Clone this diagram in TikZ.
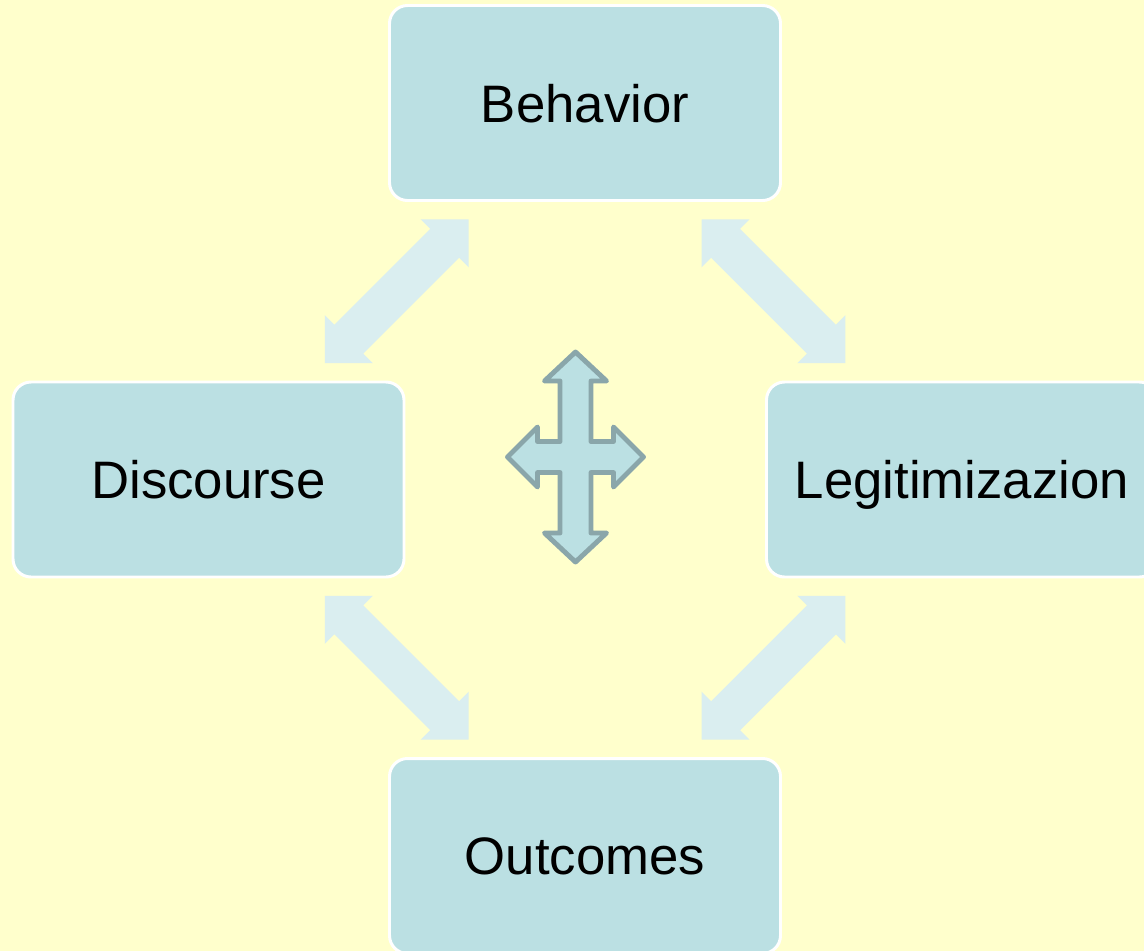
\documentclass[tikz,border=0pt]{standalone}
\usepackage{fontspec}
\setmainfont{Liberation Sans}
\usetikzlibrary{calc}

\definecolor{paper}{HTML}{FFFFCC}
\definecolor{boxfill}{HTML}{BBE0E3}
\definecolor{linkfill}{HTML}{DAEEF0}
\definecolor{crossline}{HTML}{8AA6AA}

\tikzset{
  box/.style={rectangle, rounded corners=0.36cm, draw=white, line width=1.7pt,
    fill=boxfill, minimum width=7.82cm, minimum height=3.9cm, text depth=0pt,
    font=\fontsize{30}{36}\selectfont},
  dblarrow/.pic={
    \fill[linkfill] (2.036,0) -- (1.356,0.68) -- (1.356,0.41) -- (-1.356,0.41)
      -- (-1.356,0.68) -- (-2.036,0) -- (-1.356,-0.68) -- (-1.356,-0.41)
      -- (1.356,-0.41) -- (1.356,-0.68) -- cycle;
  }
}

\begin{document}
\begin{tikzpicture}

  % Background
  \fill[paper] (0,0) rectangle (22.88,-19.02);
  \useasboundingbox (0,0) rectangle (22.88,-19.02);

  % Boxes
  \node[box] (beh) at (11.70,-2.06) {Behavior};
  \node[box] (dis) at (4.17,-9.59) {Discourse};
  \node[box] (leg) at (19.24,-9.59) {Legitimizazion};
  \node[box] (out) at (11.70,-17.12) {Outcomes};

  % Links between the boxes
  \path ($(beh.south west)!0.5!(dis.north east)$) pic[rotate=45] {dblarrow};
  \path ($(beh.south east)!0.5!(leg.north west)$) pic[rotate=-45] {dblarrow};
  \path ($(dis.south east)!0.5!(out.north west)$) pic[rotate=-45] {dblarrow};
  \path ($(leg.south west)!0.5!(out.north east)$) pic[rotate=45] {dblarrow};

  % Cross in the middle
  \begin{scope}[shift={(11.51,-9.14)}]
    \draw[fill=boxfill, draw=crossline, line width=2.8pt, line join=round]
      (0,2.10) -- (0.62,1.52) -- (0.31,1.52) -- (0.31,0.31) -- (0.76,0.31)
      -- (0.76,0.60) -- (1.36,0) -- (0.76,-0.60) -- (0.76,-0.31) -- (0.31,-0.31)
      -- (0.31,-1.52) -- (0.62,-1.52) -- (0,-2.10) -- (-0.62,-1.52) -- (-0.31,-1.52)
      -- (-0.31,-0.31) -- (-0.76,-0.31) -- (-0.76,-0.60) -- (-1.36,0) -- (-0.76,0.60)
      -- (-0.76,0.31) -- (-0.31,0.31) -- (-0.31,1.52) -- (-0.62,1.52) -- cycle;
  \end{scope}

\end{tikzpicture}
\end{document}
